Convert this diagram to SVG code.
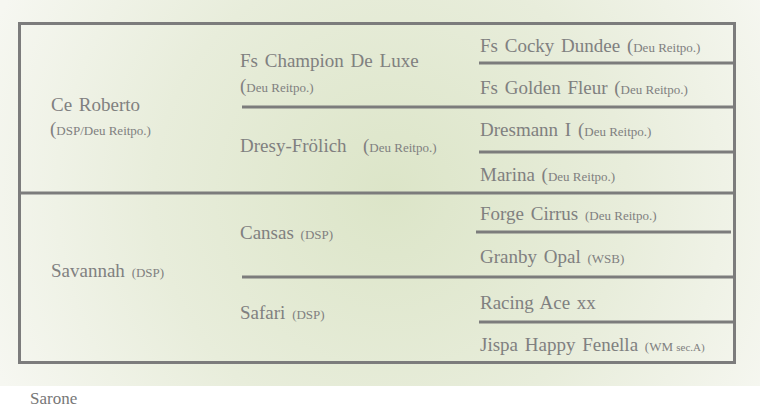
<svg xmlns="http://www.w3.org/2000/svg" width="760" height="420" viewBox="0 0 760 420">
<defs>
<radialGradient id="bg" gradientUnits="userSpaceOnUse" cx="390" cy="195" r="430">
<stop offset="0" stop-color="#dce5c8"/>
<stop offset="0.55" stop-color="#e8eddb"/>
<stop offset="1" stop-color="#f6f7f1"/>
</radialGradient>
<style>
.ln{stroke:#7c7c7c;stroke-width:3;fill:none}
.t{font-family:"Liberation Serif","Times New Roman",serif;font-size:19px;fill:#808080;word-spacing:2px}
.s{font-size:13px;word-spacing:0}
.xs{font-size:11px}
.cap{font-family:"Liberation Serif","Times New Roman",serif;font-size:17px;fill:#777}
</style>
</defs>
<rect x="0" y="0" width="760" height="386" fill="url(#bg)"/>
<rect x="0" y="386" width="760" height="34" fill="#ffffff"/>
<g id="connectors">
<rect class="ln" x="19.5" y="23.5" width="715" height="339"/>
<line class="ln" x1="19.5" y1="193" x2="734.5" y2="193"/>
<line class="ln" x1="242" y1="107" x2="734.5" y2="107"/>
<line class="ln" x1="242" y1="277" x2="734.5" y2="277"/>
<line class="ln" x1="479" y1="63" x2="734.5" y2="63"/>
<line class="ln" x1="479" y1="152" x2="734.5" y2="152"/>
<line class="ln" x1="476" y1="232" x2="731" y2="232"/>
<line class="ln" x1="479" y1="322" x2="734.5" y2="322"/>
</g>
<g id="ce-roberto">
<text class="t" x="51" y="111">Ce Roberto</text>
<text class="t" x="50" y="135">(<tspan class="s">DSP/Deu Reitpo.)</tspan></text>
</g>
<g id="savannah">
<text class="t" x="51" y="277">Savannah <tspan class="s">(DSP)</tspan></text>
</g>
<g id="fs-champion">
<text class="t" x="240" y="67">Fs Champion De Luxe</text>
<text class="t" x="240" y="92">(<tspan class="s">Deu Reitpo.)</tspan></text>
</g>
<g id="dresy-froelich">
<text class="t" x="240" y="152">Dresy-Frölich <tspan x="363">(</tspan><tspan class="s">Deu Reitpo.)</tspan></text>
</g>
<g id="cansas">
<text class="t" x="240" y="239">Cansas <tspan class="s">(DSP)</tspan></text>
</g>
<g id="safari">
<text class="t" x="240" y="319">Safari <tspan class="s">(DSP)</tspan></text>
</g>
<g id="fs-cocky-dundee">
<text class="t" x="480" y="52">Fs Cocky Dundee (<tspan class="s">Deu Reitpo.)</tspan></text>
</g>
<g id="fs-golden-fleur">
<text class="t" x="480" y="94">Fs Golden Fleur (<tspan class="s">Deu Reitpo.)</tspan></text>
</g>
<g id="dresmann">
<text class="t" x="480" y="136">Dresmann I (<tspan class="s">Deu Reitpo.)</tspan></text>
</g>
<g id="marina">
<text class="t" x="480" y="181">Marina (<tspan class="s">Deu Reitpo.)</tspan></text>
</g>
<g id="forge-cirrus">
<text class="t" x="480" y="220">Forge Cirrus <tspan class="s">(Deu Reitpo.)</tspan></text>
</g>
<g id="granby-opal">
<text class="t" x="480" y="263">Granby Opal <tspan class="s">(WSB)</tspan></text>
</g>
<g id="racing-ace">
<text class="t" x="480" y="309">Racing Ace xx</text>
</g>
<g id="jispa">
<text class="t" x="480" y="351">Jispa Happy Fenella <tspan class="s">(WM </tspan><tspan class="s xs">sec.A)</tspan></text>
</g>
<text class="cap" x="30" y="404">Sarone</text>
</svg>
